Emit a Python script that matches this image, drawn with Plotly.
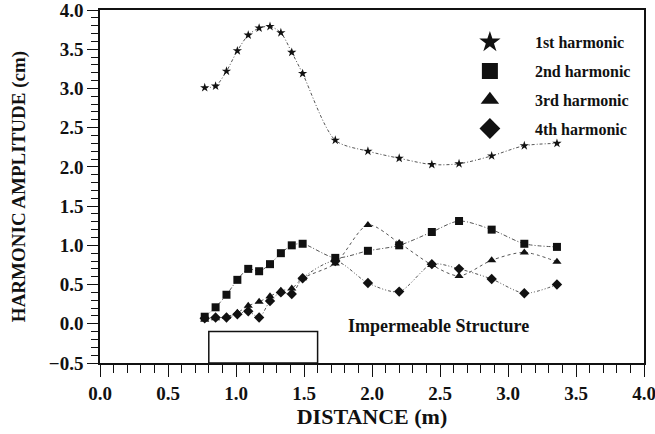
import plotly.graph_objects as go

# Measurement stations along the flume (m)
distance = [0.77, 0.85, 0.93, 1.01, 1.09, 1.17, 1.25, 1.33, 1.41, 1.49,
            1.73, 1.97, 2.20, 2.44, 2.64, 2.88, 3.12, 3.36]

# Harmonic amplitudes (cm)
first_harmonic = [3.01, 3.03, 3.22, 3.48, 3.68, 3.77, 3.79, 3.71, 3.46, 3.19,
                  2.34, 2.20, 2.11, 2.03, 2.04, 2.14, 2.27, 2.30]
second_harmonic = [0.09, 0.21, 0.37, 0.56, 0.70, 0.67, 0.76, 0.90, 1.00, 1.02,
                   0.84, 0.93, 1.00, 1.17, 1.31, 1.20, 1.02, 0.98]
third_harmonic = [0.05, 0.07, 0.09, 0.14, 0.23, 0.28, 0.35, 0.42, 0.45, 0.58,
                  0.77, 1.26, 1.03, 0.75, 0.61, 0.81, 0.91, 0.79]
fourth_harmonic = [0.07, 0.08, 0.08, 0.12, 0.16, 0.08, 0.29, 0.40, 0.38, 0.58,
                   0.80, 0.52, 0.41, 0.76, 0.70, 0.57, 0.39, 0.50]

# Extent of the impermeable structure (m) and its drawn height on the y scale
structure_x = [0.8, 1.6]
structure_y = [-0.5, -0.1]

series_names = ["1st harmonic", "2nd harmonic", "3rd harmonic", "4th harmonic"]
series_values = [first_harmonic, second_harmonic, third_harmonic, fourth_harmonic]
symbols = ["star", "square", "triangle-up", "diamond"]
marker_sizes = [7, 8, 8, 8]
dashes = ["3px,2px,1px,2px", "4px,2px,1px,2px", "3px,3px", "3px,2px,1px,2px,1px,2px"]

SERIF = "Liberation Serif, Times New Roman, serif"
INK = "#111111"

fig = go.Figure()

for name, vals, sym, ms, dash in zip(series_names, series_values, symbols, marker_sizes, dashes):
    fig.add_trace(go.Scatter(
        x=distance, y=vals, mode="lines+markers", name=name,
        line=dict(color="#555555", width=1, dash=dash, shape="spline", smoothing=0.8),
        marker=dict(symbol=sym, size=ms, color=INK),
        showlegend=False,
    ))
    # legend entry with an enlarged marker only
    fig.add_trace(go.Scatter(
        x=[None], y=[None], mode="markers", name=name,
        marker=dict(symbol=sym, size=16, color=INK),
        showlegend=True, legendgroup=name,
    ))

fig.add_shape(type="rect", x0=structure_x[0], x1=structure_x[1],
              y0=structure_y[0], y1=structure_y[1],
              line=dict(color=INK, width=1.5), xref="x", yref="y")

fig.add_annotation(x=2.49, y=-0.03, text="Impermeable Structure", showarrow=False,
                   font=dict(family=SERIF, size=18, color=INK, weight="bold"),
                   xanchor="center", yanchor="middle")

axis_common = dict(
    showgrid=False, zeroline=False, showline=True, linecolor=INK, linewidth=1.5,
    mirror=True, ticks="outside", tickcolor=INK, tickwidth=1.2,
    tickformat=".1f", automargin=False, ticklabeloverflow="allow",
    tickfont=dict(family=SERIF, size=19, color=INK, weight="bold"),
)

fig.update_xaxes(
    range=[0, 4.0], dtick=0.5, tick0=0, ticklen=12,
    minor=dict(dtick=0.1, ticks="outside", ticklen=8, tickcolor=INK, tickwidth=1),
    title=dict(text="DISTANCE (m)", font=dict(family=SERIF, size=22, color=INK, weight="bold"),
               standoff=4),
    **axis_common,
)
fig.update_yaxes(
    range=[-0.5, 4.0], dtick=0.5, tick0=0, ticklen=11,
    minor=dict(dtick=0.1, ticks="outside", ticklen=7, tickcolor=INK, tickwidth=1),
    title=dict(text="HARMONIC AMPLITUDE (cm)",
               font=dict(family=SERIF, size=19, color=INK, weight="bold"), standoff=18),
    **axis_common,
)

fig.update_layout(
    width=655, height=434,
    margin=dict(l=100, r=11, t=10, b=71),
    paper_bgcolor="white", plot_bgcolor="white",
    legend=dict(x=0.634, y=0.957, xanchor="left", yanchor="top",
                font=dict(family=SERIF, size=16, color=INK, weight="bold"),
                bgcolor="rgba(0,0,0,0)", traceorder="grouped", tracegroupgap=5,
                itemwidth=80),
)

fig.write_html("out.html")
